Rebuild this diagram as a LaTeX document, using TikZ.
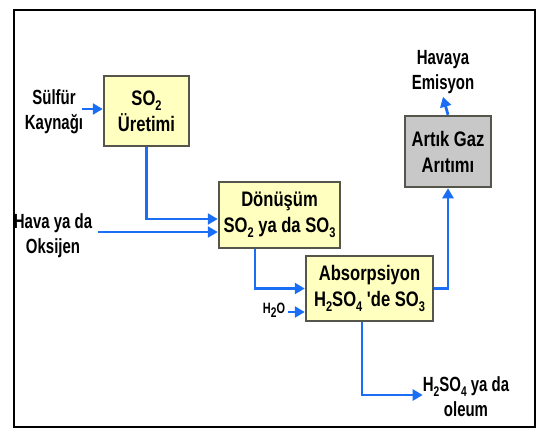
\documentclass[tikz,border=0pt]{standalone}
\usepackage{fontspec}
\setmainfont{Liberation Sans}
\newfontfamily\boxfont[FakeStretch=0.79]{Liberation Sans}
\newfontfamily\lblfont[FakeStretch=0.73]{Liberation Sans}
\usetikzlibrary{arrows.meta}
\definecolor{flowblue}{RGB}{25,110,245}
\definecolor{boxfill}{RGB}{255,255,192}
\definecolor{boxgray}{RGB}{200,200,200}
\definecolor{boxedge}{RGB}{85,85,75}
\newcommand\lowidx[1]{\raisebox{-0.25em}{\fontsize{14}{14}\selectfont #1}}
\begin{document}
\begin{tikzpicture}[x=1pt,y=-1pt,
 procbox/.style={draw=boxedge,line width=2.5pt,fill=boxfill,inner sep=0pt,align=center,font=\boxfont\fontsize{21}{26}\selectfont\bfseries},
 lbl/.style={align=center,inner sep=0pt,font=\lblfont\fontsize{20.5}{25}\selectfont\bfseries},
 flow/.style={draw=flowblue,line width=2.8pt,-{Triangle[length=10pt,width=11pt]}}]
\useasboundingbox (0,0) rectangle (538,434);
\draw[line width=2pt] (14,10) rectangle (535,427);

\node[procbox,minimum width=85pt,minimum height=70pt] (so2) at (146.5,111) {SO\lowidx{2}\\Üretimi};
\node[procbox,minimum width=121pt,minimum height=66pt] (don) at (279.5,215) {Dönüşüm\\SO\lowidx{2} ya da SO\lowidx{3}};
\node[procbox,minimum width=127pt,minimum height=65pt] (abs) at (369.5,288.5) {Absorpsiyon\\H\lowidx{2}SO\lowidx{4} 'de SO\lowidx{3}};
\node[procbox,fill=boxgray,minimum width=86pt,minimum height=71pt] (art) at (448,151.5) {Artık Gaz\\Arıtımı};

\node[lbl] (sul) at (54,112) {Sülfür\\Kaynağı};
\node[lbl] (hava) at (53,236) {Hava ya da\\Oksijen};
\node[lbl,font=\lblfont\fontsize{15}{16}\selectfont\bfseries] (h2o) at (274,310) {H\lowidx{2}O};
\node[lbl] (hav) at (443,72) {Havaya\\Emisyon};
\node[lbl] (ole) at (466,397) {H\lowidx{2}SO\lowidx{4} ya da\\oleum};

\coordinate (s1) at ([yshift=2pt]so2.west);
\coordinate (d1) at ([yshift=-4pt]don.west);
\coordinate (d2) at ([yshift=-17pt]don.west);
\coordinate (a2) at ([yshift=-23.5pt]abs.west);

\draw[flow] ([xshift=-1pt]sul.east |- s1) -- (s1);
\draw[flow] (so2.south) |- (d1);
\draw[flow] ([xshift=6pt]hava.east |- d2) -- (d2);
\draw[flow] ([xshift=-24.5pt]don.south) |- (abs.west);
\draw[flow] ([xshift=3pt]h2o.east |- a2) -- (a2);
\draw[flow] (abs.east) -| (art.south);
\draw[flow] (art.north) -- ([yshift=-3pt]hav.south);
\draw[flow] ([xshift=-7.5pt]abs.south) |- ([yshift=2pt]ole.west);
\end{tikzpicture}
\end{document}
